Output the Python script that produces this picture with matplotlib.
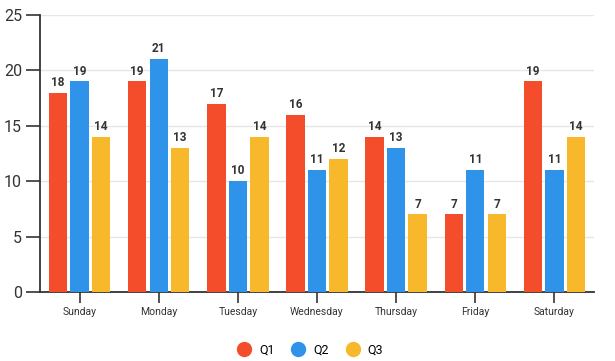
import matplotlib.pyplot as plt
import numpy as np

days = ["Sunday", "Monday", "Tuesday", "Wednesday", "Thursday", "Friday", "Saturday"]
q1 = [18, 19, 17, 16, 14, 7, 19]
q2 = [19, 21, 10, 11, 13, 11, 11]
q3 = [14, 13, 14, 12, 7, 7, 14]
series = [("Q1", q1, "#F44D2B"), ("Q2", q2, "#2F93EA"), ("Q3", q3, "#F7B92B")]

plt.rcParams['font.family'] = ['Roboto', 'DejaVu Sans']

fig = plt.figure(figsize=(6.15, 3.61), dpi=100)
ax = fig.add_axes([40/615, 69/361, 554/615, 277/361])

x = np.arange(len(days))
w = 0.232
gap = 0.04
for i, (name, vals, col) in enumerate(series):
    pos = x + (i - 1) * (w + gap)
    bars = ax.bar(pos, vals, width=w, color=col, label=name, zorder=3)
    for b, v in zip(bars, vals):
        ax.text(b.get_x() + b.get_width() / 2, v + 0.35, str(v), ha='center', va='bottom',
                fontsize=8.5, fontweight='bold', color='#333333')

ax.set_xlim(-0.5, len(days) - 0.5)
ax.set_ylim(0, 25)
ax.set_yticks(range(0, 26, 5))
ax.set_xticks(x)
ax.set_xticklabels(days, fontsize=7.5, color='#333333')
ax.tick_params(axis='y', labelsize=11.5, colors='#333333', length=10, width=1.2, pad=3)
ax.tick_params(axis='x', length=8, width=1.2, color='#333333', pad=3)
ax.grid(axis='y', color='#e6e6e6', linewidth=1, zorder=0)
for s in ['top', 'right']:
    ax.spines[s].set_visible(False)
for s in ['left', 'bottom']:
    ax.spines[s].set_color('#333333')
    ax.spines[s].set_linewidth(1.3)

handles = [plt.Line2D([], [], marker='o', linestyle='', markersize=10, color=c) for _, _, c in series]
fig.legend(handles, [n for n, _, _ in series], loc='center', bbox_to_anchor=(0.5, 11/361),
           ncol=3, frameon=False, fontsize=9, handletextpad=0.2, columnspacing=0.9)

fig.savefig("out.png", dpi=100)
